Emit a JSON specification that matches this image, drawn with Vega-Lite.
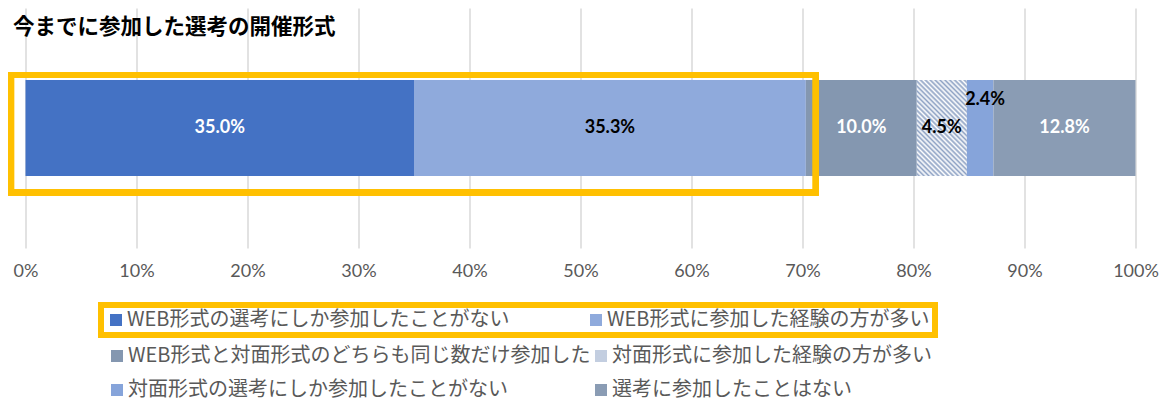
{
  "$schema": "https://vega.github.io/schema/vega-lite/v6.json",
  "width": 1110,
  "height": 240,
  "autosize": {"type": "none"},
  "padding": {"left": 25.5, "top": 8, "right": 23.5, "bottom": 155},
  "background": "white",
  "title": {
    "text": "今までに参加した選考の開催形式",
    "anchor": "start",
    "frame": "group",
    "orient": "top",
    "offset": -41,
    "dx": -12.5,
    "baseline": "middle",
    "font": "Noto Sans CJK JP",
    "fontSize": 21.5,
    "fontWeight": "bold",
    "color": "#000000"
  },
  "data": {
    "values": [
      {"rank": 1, "category": "WEB形式の選考にしか参加したことがない", "value": 0.350},
      {"rank": 2, "category": "WEB形式に参加した経験の方が多い", "value": 0.353},
      {"rank": 3, "category": "WEB形式と対面形式のどちらも同じ数だけ参加した", "value": 0.100},
      {"rank": 4, "category": "対面形式に参加した経験の方が多い", "value": 0.045},
      {"rank": 5, "category": "対面形式の選考にしか参加したことがない", "value": 0.024},
      {"rank": 6, "category": "選考に参加したことはない", "value": 0.128}
    ]
  },
  "transform": [
    {"stack": "value", "groupby": [], "sort": [{"field": "rank", "order": "ascending"}], "as": ["x0", "x1"]}
  ],
  "layer": [
    {
      "transform": [{"filter": "datum.rank <= 2"}],
      "mark": {"type": "bar", "strokeWidth": 0},
      "encoding": {
        "x": {
          "field": "x0",
          "type": "quantitative",
          "scale": {"domain": [0, 1], "nice": false},
          "title": null,
          "axis": {
            "values": [0, 0.1, 0.2, 0.3, 0.4, 0.5, 0.6, 0.7, 0.8, 0.9, 1],
            "format": "%",
            "grid": true,
            "gridColor": "#d9d9d9",
            "gridWidth": 1.5,
            "domain": false,
            "ticks": false,
            "labelFont": "Lato",
            "labelFontSize": 18,
            "labelColor": "#595959",
            "labelPadding": 14,
            "labelFlush": false,
            "labelOverlap": false
          }
        },
        "x2": {"field": "x1"},
        "y": {"datum": "all", "type": "nominal", "scale": {"paddingOuter": 0.75, "paddingInner": 0}, "axis": null},
        "fill": {
          "field": "category",
          "type": "nominal",
          "scale": {
            "domain": ["WEB形式の選考にしか参加したことがない", "WEB形式に参加した経験の方が多い"],
            "range": ["#4472C4", "#8FAADC"]
          },
          "legend": {
            "orient": "none",
            "legendX": 75.5,
            "legendY": 297,
            "direction": "horizontal",
            "columns": 2,
            "columnPadding": 76,
            "title": null,
            "symbolType": "square",
            "symbolSize": 144,
            "symbolStrokeWidth": 0,
            "labelFont": "Noto Sans CJK JP",
            "labelFontSize": 20,
            "labelColor": "#595959",
            "labelOffset": 1,
            "labelLimit": 700,
            "strokeColor": "#FFC000",
            "padding": 5,
            "encode": {"legend": {"update": {"strokeWidth": {"value": 6}}}}
          }
        }
      }
    },
    {
      "transform": [{"filter": "datum.rank >= 3"}],
      "mark": {"type": "bar", "strokeWidth": 0},
      "encoding": {
        "x": {"field": "x0", "type": "quantitative", "title": null},
        "x2": {"field": "x1"},
        "y": {"datum": "all", "type": "nominal", "axis": null},
        "color": {
          "field": "category",
          "type": "nominal",
          "scale": {
            "domain": ["WEB形式と対面形式のどちらも同じ数だけ参加した", "対面形式に参加した経験の方が多い", "対面形式の選考にしか参加したことがない", "選考に参加したことはない"],
            "range": ["#8497B0", "#C3CEE0", "#86A4DA", "#8A9CB4"]
          },
          "legend": {
            "orient": "none",
            "legendX": 81.5,
            "legendY": 338,
            "direction": "horizontal",
            "columns": 2,
            "columnPadding": -12,
            "rowPadding": 14,
            "title": null,
            "symbolType": "square",
            "symbolSize": 144,
            "symbolStrokeWidth": 0,
            "labelFont": "Noto Sans CJK JP",
            "labelFontSize": 20,
            "labelColor": "#595959",
            "labelOffset": 1,
            "labelLimit": 700,
            "padding": 0
          }
        }
      }
    },
    {
      "transform": [{"filter": "datum.rank == 4"}],
      "mark": {
        "type": "bar",
        "strokeWidth": 0,
        "fill": {
          "gradient": "linear",
          "x1": 0, "y1": 1, "x2": 0.622, "y2": -0.197,
          "stops": [
            {"offset": 0, "color": "#ffffff"}, {"offset": 0.0167, "color": "#8ea2c4"},
            {"offset": 0.0333, "color": "#ffffff"}, {"offset": 0.05, "color": "#8ea2c4"},
            {"offset": 0.0667, "color": "#ffffff"}, {"offset": 0.0833, "color": "#8ea2c4"},
            {"offset": 0.1, "color": "#ffffff"}, {"offset": 0.1167, "color": "#8ea2c4"},
            {"offset": 0.1333, "color": "#ffffff"}, {"offset": 0.15, "color": "#8ea2c4"},
            {"offset": 0.1667, "color": "#ffffff"}, {"offset": 0.1833, "color": "#8ea2c4"},
            {"offset": 0.2, "color": "#ffffff"}, {"offset": 0.2167, "color": "#8ea2c4"},
            {"offset": 0.2333, "color": "#ffffff"}, {"offset": 0.25, "color": "#8ea2c4"},
            {"offset": 0.2667, "color": "#ffffff"}, {"offset": 0.2833, "color": "#8ea2c4"},
            {"offset": 0.3, "color": "#ffffff"}, {"offset": 0.3167, "color": "#8ea2c4"},
            {"offset": 0.3333, "color": "#ffffff"}, {"offset": 0.35, "color": "#8ea2c4"},
            {"offset": 0.3667, "color": "#ffffff"}, {"offset": 0.3833, "color": "#8ea2c4"},
            {"offset": 0.4, "color": "#ffffff"}, {"offset": 0.4167, "color": "#8ea2c4"},
            {"offset": 0.4333, "color": "#ffffff"}, {"offset": 0.45, "color": "#8ea2c4"},
            {"offset": 0.4667, "color": "#ffffff"}, {"offset": 0.4833, "color": "#8ea2c4"},
            {"offset": 0.5, "color": "#ffffff"}, {"offset": 0.5167, "color": "#8ea2c4"},
            {"offset": 0.5333, "color": "#ffffff"}, {"offset": 0.55, "color": "#8ea2c4"},
            {"offset": 0.5667, "color": "#ffffff"}, {"offset": 0.5833, "color": "#8ea2c4"},
            {"offset": 0.6, "color": "#ffffff"}, {"offset": 0.6167, "color": "#8ea2c4"},
            {"offset": 0.6333, "color": "#ffffff"}, {"offset": 0.65, "color": "#8ea2c4"},
            {"offset": 0.6667, "color": "#ffffff"}, {"offset": 0.6833, "color": "#8ea2c4"},
            {"offset": 0.7, "color": "#ffffff"}, {"offset": 0.7167, "color": "#8ea2c4"},
            {"offset": 0.7333, "color": "#ffffff"}, {"offset": 0.75, "color": "#8ea2c4"},
            {"offset": 0.7667, "color": "#ffffff"}, {"offset": 0.7833, "color": "#8ea2c4"},
            {"offset": 0.8, "color": "#ffffff"}, {"offset": 0.8167, "color": "#8ea2c4"},
            {"offset": 0.8333, "color": "#ffffff"}, {"offset": 0.85, "color": "#8ea2c4"},
            {"offset": 0.8667, "color": "#ffffff"}, {"offset": 0.8833, "color": "#8ea2c4"},
            {"offset": 0.9, "color": "#ffffff"}, {"offset": 0.9167, "color": "#8ea2c4"},
            {"offset": 0.9333, "color": "#ffffff"}, {"offset": 0.95, "color": "#8ea2c4"},
            {"offset": 0.9667, "color": "#ffffff"}, {"offset": 0.9833, "color": "#8ea2c4"},
            {"offset": 1, "color": "#ffffff"}
          ]
        }
      },
      "encoding": {
        "x": {"field": "x0", "type": "quantitative", "title": null},
        "x2": {"field": "x1"},
        "y": {"datum": "all", "type": "nominal", "axis": null}
      }
    },
    {
      "mark": {
        "type": "bar",
        "fillOpacity": 0,
        "fill": "white",
        "stroke": "#FFC000",
        "strokeWidth": 6,
        "height": {"band": 1.224},
        "yOffset": 5.75
      },
      "encoding": {
        "x": {"datum": -0.013, "type": "quantitative", "title": null},
        "x2": {"datum": 0.712},
        "y": {"datum": "all", "type": "nominal", "axis": null}
      }
    },
    {
      "transform": [
        {"fold": ["x0", "x1"], "as": ["edge", "pos"]},
        {"aggregate": [{"op": "mean", "field": "pos", "as": "mid"}], "groupby": ["rank", "value"]},
        {"filter": "datum.rank != 5"}
      ],
      "mark": {"type": "text", "font": "Lato", "fontSize": 18, "fontWeight": "bold", "align": "center", "baseline": "middle"},
      "encoding": {
        "x": {"field": "mid", "type": "quantitative", "title": null},
        "y": {"datum": "all", "type": "nominal", "axis": null},
        "text": {"field": "value", "type": "quantitative", "format": ".1%"},
        "color": {"condition": {"test": "datum.rank == 2 || datum.rank == 4", "value": "#000000"}, "value": "#ffffff"}
      }
    },
    {
      "transform": [
        {"fold": ["x0", "x1"], "as": ["edge", "pos"]},
        {"aggregate": [{"op": "mean", "field": "pos", "as": "mid"}], "groupby": ["rank", "value"]},
        {"filter": "datum.rank == 5"}
      ],
      "mark": {"type": "text", "font": "Lato", "fontSize": 18, "fontWeight": "bold", "align": "center", "baseline": "middle", "dy": -28, "dx": 5, "color": "#000000"},
      "encoding": {
        "x": {"field": "mid", "type": "quantitative", "title": null},
        "y": {"datum": "all", "type": "nominal", "axis": null},
        "text": {"field": "value", "type": "quantitative", "format": ".1%"}
      }
    }
  ],
  "config": {
    "view": {"stroke": null}
  }
}
